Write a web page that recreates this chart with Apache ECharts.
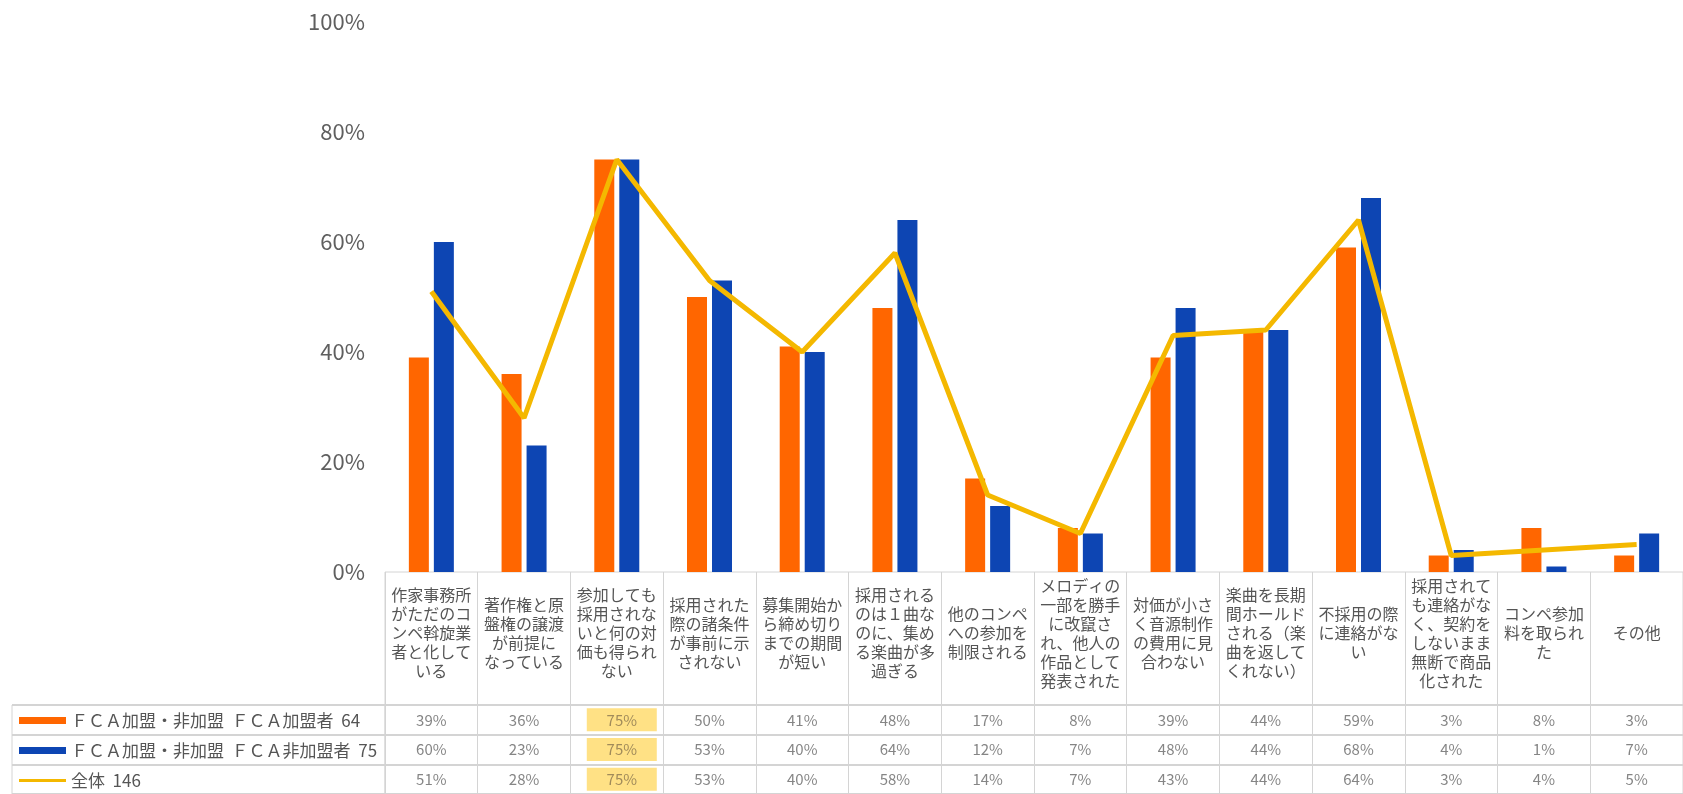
<!DOCTYPE html>
<html>
<head>
<meta charset="utf-8">
<script src="https://cdn.jsdelivr.net/npm/echarts@6/dist/echarts.min.js"></script>
<style>
html,body{margin:0;padding:0;background:#fff;}
#c{width:1683px;height:794px;}
</style>
</head>
<body>
<div id="c"></div>
<script>
const categories = [
  '作家事務所\nがただのコ\nンペ斡旋業\n者と化して\nいる',
  '著作権と原\n盤権の譲渡\nが前提に\nなっている',
  '参加しても\n採用されな\nいと何の対\n価も得られ\nない',
  '採用された\n際の諸条件\nが事前に示\nされない',
  '募集開始か\nら締め切り\nまでの期間\nが短い',
  '採用される\nのは１曲な\nのに、集め\nる楽曲が多\n過ぎる',
  '他のコンペ\nへの参加を\n制限される',
  'メロディの\n一部を勝手\nに改竄さ\nれ、他人の\n作品として\n発表された',
  '対価が小さ\nく音源制作\nの費用に見\n合わない',
  '楽曲を長期\n間ホールド\nされる（楽\n曲を返して\nくれない）',
  '不採用の際\nに連絡がな\nい',
  '採用されて\nも連絡がな\nく、契約を\nしないまま\n無断で商品\n化された',
  'コンペ参加\n料を取られ\nた',
  'その他'
];
const nameMember = 'ＦＣＡ加盟・非加盟  ＦＣＡ加盟者  64';
const nameNonMember = 'ＦＣＡ加盟・非加盟  ＦＣＡ非加盟者  75';
const nameTotal = '全体  146';
const member = [39, 36, 75, 50, 41, 48, 17, 8, 39, 44, 59, 3, 8, 3];
const nonMember = [60, 23, 75, 53, 40, 64, 12, 7, 48, 44, 68, 4, 1, 7];
const total = [51, 28, 75, 53, 40, 58, 14, 7, 43, 44, 64, 3, 4, 5];
const yTicks = [0, 20, 40, 60, 80, 100];

const rows = [member, nonMember, total];
const rowNames = [nameMember, nameNonMember, nameTotal];
const maxIdx = total.indexOf(Math.max.apply(null, total));
const tableData = [];
rows.forEach((r, ri) => r.forEach((v, ci) => {
  tableData.push(ci === maxIdx ? {value: [ci, ri, v], label: {offset: [5, 0]}} : [ci, ri, v]);
}));

const FONT = '"Noto Sans CJK JP", "Noto Sans", sans-serif';
const ORANGE = '#FF6600', BLUE = '#0D45B3', YELLOW = '#F4B800';
const LINEC = '#d4d4d4';
const legendText = {fontSize: 17, color: '#555', fontFamily: FONT};

const chart = echarts.init(document.getElementById('c'));
const L = 385, R = -5;
chart.setOption({
  animation: false,
  textStyle: {fontFamily: FONT},
  grid: [
    {left: L, right: R, top: 22, bottom: 222},
    {left: L, right: R, top: 572, height: 133, show: true, borderColor: LINEC, borderWidth: 1},
    {left: L, right: R, top: 705, height: 90, show: true, borderColor: LINEC, borderWidth: 1},
    {left: 12, width: L - 12, top: 705, height: 90, show: true, borderColor: LINEC, borderWidth: 1}
  ],
  legend: [
    {data: [nameMember], left: 14, top: 707, icon: 'rect', itemWidth: 47, itemHeight: 7,
     selectedMode: false, textStyle: legendText},
    {data: [nameNonMember], left: 14, top: 737, icon: 'rect', itemWidth: 47, itemHeight: 7,
     selectedMode: false, textStyle: legendText},
    {data: [nameTotal], left: 14, top: 767, icon: 'rect', itemWidth: 47, itemHeight: 3,
     selectedMode: false, textStyle: legendText}
  ],
  xAxis: [
    {type: 'category', gridIndex: 0, data: categories,
     axisLine: {show: false}, axisTick: {show: false}, splitLine: {show: false},
     axisLabel: {interval: 0, margin: 61, verticalAlign: 'middle', fontSize: 16, lineHeight: 19,
                 color: '#555', fontFamily: FONT}},
    {type: 'category', gridIndex: 1, data: categories,
     axisLine: {show: false}, axisTick: {show: false}, axisLabel: {show: false},
     splitLine: {show: true, interval: 0, lineStyle: {color: LINEC, width: 1}}},
    {type: 'category', gridIndex: 2, data: categories,
     axisLine: {show: false}, axisTick: {show: false}, axisLabel: {show: false},
     splitLine: {show: true, interval: 0, lineStyle: {color: LINEC, width: 1}}},
    {type: 'value', gridIndex: 3, show: false}
  ],
  yAxis: [
    {type: 'value', gridIndex: 0, min: yTicks[0], max: yTicks[yTicks.length - 1], interval: 20,
     axisLine: {show: false}, axisTick: {show: false}, splitLine: {show: false},
     axisLabel: {formatter: '{value}%', fontSize: 22, color: '#5f5f5f', margin: 20, fontFamily: FONT}},
    {type: 'value', gridIndex: 1, show: false},
    {type: 'category', gridIndex: 2, data: rowNames, inverse: true,
     axisLine: {show: false}, axisTick: {show: false}, axisLabel: {show: false},
     splitLine: {show: true, interval: 0, lineStyle: {color: LINEC, width: 2}}},
    {type: 'category', gridIndex: 3, data: rowNames, inverse: true,
     axisLine: {show: false}, axisTick: {show: false}, axisLabel: {show: false},
     splitLine: {show: true, interval: 0, lineStyle: {color: LINEC, width: 2}}}
  ],
  series: [
    {name: nameMember, type: 'bar', xAxisIndex: 0, yAxisIndex: 0, data: member,
     barWidth: 20, barGap: '25%', itemStyle: {color: ORANGE}},
    {name: nameNonMember, type: 'bar', xAxisIndex: 0, yAxisIndex: 0, data: nonMember,
     barWidth: 20, barGap: '25%', itemStyle: {color: BLUE}},
    {name: nameTotal, type: 'line', xAxisIndex: 0, yAxisIndex: 0, data: total,
     showSymbol: false, symbol: 'none', lineStyle: {color: YELLOW, width: 5}, itemStyle: {color: YELLOW}, z: 5},
    {type: 'scatter', xAxisIndex: 2, yAxisIndex: 2, data: tableData, symbolSize: 0,
     label: {show: true, position: 'inside', fontSize: 15, color: '#666', fontFamily: FONT,
       formatter: p => p.value[0] === maxIdx ? '{h|' + p.value[2] + '%}' : p.value[2] + '%',
       rich: {h: {backgroundColor: '#FFD966', color: '#8a7650', fontSize: 15, width: 70, height: 23,
                  align: 'center', fontFamily: FONT}}}}
  ]
});
</script>
</body>
</html>
